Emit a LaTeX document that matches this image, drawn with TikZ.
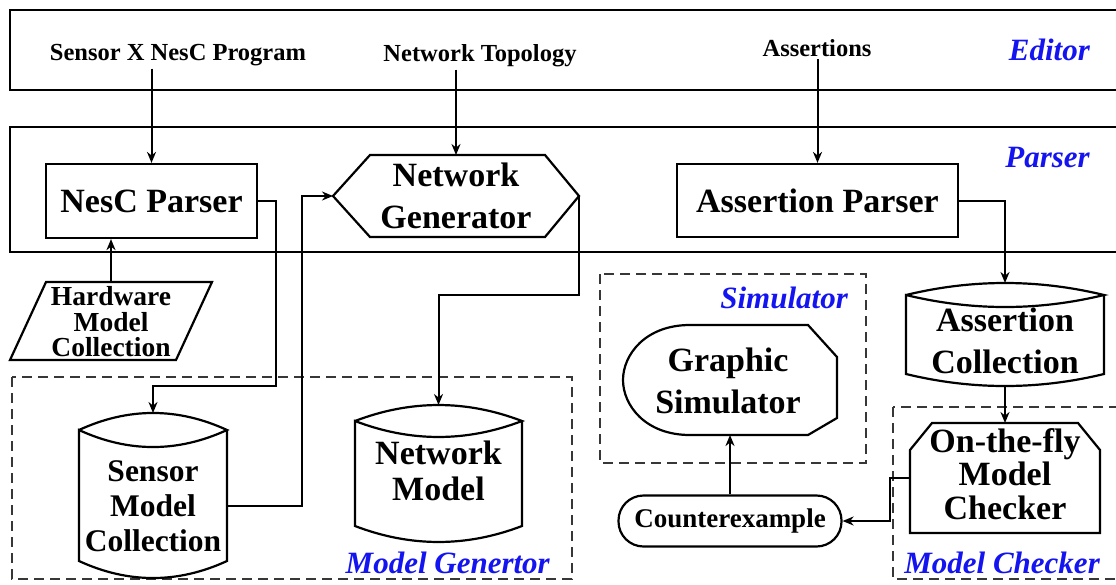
\documentclass[tikz,border=0pt]{standalone}
\usepackage{fontspec}
\setmainfont{Liberation Serif}
\usetikzlibrary{arrows.meta}
\definecolor{lblue}{RGB}{20,20,240}
\definecolor{dgray}{RGB}{55,55,55}
\tikzset{
  arr/.style={line width=2pt, -{Stealth[length=11pt,width=9pt,inset=3.5pt]}},
  shp/.style={line width=2.2pt, line join=miter},
  grp/.style={line width=1.6pt},
  dgrp/.style={line width=2pt, dgray, dash pattern=on 10pt off 6pt},
  big/.style={font=\fontsize{34}{42}\selectfont\bfseries, align=center, inner sep=0pt},
  hole/.style={inner sep=0pt, outer sep=0pt},
  small/.style={font=\fontsize{24.5}{28}\selectfont\bfseries, inner sep=3pt},
  blab/.style={font=\fontsize{31}{34}\selectfont\bfseries\itshape, text=lblue, inner sep=0pt, anchor=base east},
}
\begin{document}
\begin{tikzpicture}[x=1pt,y=-1pt]
\useasboundingbox (0,0) rectangle (1116,584);
\clip (0,0) rectangle (1116,584);

% group frames
\draw[grp] (10,10) rectangle (1130,90);
\draw[grp] (10,127) rectangle (1130,252);
\draw[dgrp] (12,377) rectangle (572,579);
\draw[dgrp] (600,274) rectangle (866,463);
\draw[dgrp] (893,407) rectangle (1130,579);

% group labels
\node[blab] (leditor) at (1090,60) {Editor};
\node[blab] (lparser) at (1090,167) {Parser};
\node[blab] (lsim) at (848,308) {Simulator};
\node[blab] (lmg) at (550,573) {Model Genertor};
\node[blab] (lmc) at (1100,573) {Model Checker};

% editor inputs
\node[small, anchor=base] (sxp) at (178,60) {Sensor X NesC Program};
\node[small, anchor=base] (ntop) at (480,61) {Network Topology};
\node[small, anchor=base] (asrt) at (817,56) {Assertions};

% parser stage
\node[big, draw, shp, minimum width=211, minimum height=74] (nesc) at (151.5,201) {NesC Parser};
\node[big, draw, shp, minimum width=281, minimum height=73] (apar) at (817.5,200.5) {Assertion Parser};

\node[hole, minimum width=246, minimum height=82] (gen) at (456,196) {};
\draw[shp] (gen.west) -- (370,155) -- (545,155) -- (gen.east) -- (545,237) -- (370,237) -- cycle;
\node[big] (gentxt) at (456,196) {Network\\Generator};

% hardware collection
\node[hole, minimum width=166, minimum height=78] (hw) at (111,321) {};
\draw[shp] (10,360) -- (46,282) -- (212,282) -- (176,360) -- cycle;
\node[font=\fontsize{27.5}{25.5}\selectfont\bfseries, align=center, inner sep=0pt] (hwtxt) at (111,322) {Hardware\\Model\\Collection};

% sensor model collection
\node[hole, minimum width=148, minimum height=165] (sensor) at (153,495.5) {};
\draw[shp] (79,430) .. controls (128.3,407.3) and (177.7,407.3) .. (227,430)
  .. controls (177.7,452.7) and (128.3,452.7) .. (79,430) -- (79,561)
  .. controls (128.3,583.7) and (177.7,583.7) .. (227,561) -- (227,430);
\node[font=\fontsize{31.5}{35}\selectfont\bfseries, align=center, inner sep=0pt] (sensortxt) at (153,506) {Sensor\\Model\\Collection};

% network model
\node[hole, minimum width=167, minimum height=137] (nmod) at (438.5,473.5) {};
\draw[shp] (355,421) .. controls (410.7,399.7) and (466.3,399.7) .. (522,421)
  .. controls (466.3,442.3) and (410.7,442.3) .. (355,421) -- (355,526)
  .. controls (410.7,547.3) and (466.3,547.3) .. (522,526) -- (522,421);
\node[big, font=\fontsize{34}{36}\selectfont\bfseries] (nmodtxt) at (438.5,471) {Network\\Model};

% assertion collection
\node[hole, minimum width=197, minimum height=103] (acoll) at (1005,334.5) {};
\draw[shp] (906,295) .. controls (972,279) and (1038,279) .. (1104,295)
  .. controls (1038,311) and (972,311) .. (906,295) -- (906,374)
  .. controls (972,390) and (1038,390) .. (1104,374) -- (1104,295);
\node[big] (acolltxt) at (1005,341) {Assertion\\Collection};

% graphic simulator
\node[hole, minimum width=214, minimum height=110] (gsim) at (730,380) {};
\draw[shp] (690,325) -- (808,325) -- (837,357) -- (837,418) -- (808,435) -- (690,435) .. controls (645,435) and (623,405) .. (623,380) .. controls (623,355) and (645,325) .. (690,325) -- cycle;
\node[big] (gsimtxt) at (728,381) {Graphic\\Simulator};

% counterexample
\node[draw, shp, rounded corners=25pt, minimum width=223, minimum height=51, inner sep=0pt, font=\fontsize{27}{30}\selectfont\bfseries] (cex) at (730,521) {Counterexample};

% on-the-fly model checker
\node[hole, minimum width=190, minimum height=110] (otf) at (1005,478) {};
\draw[shp] (910,450) -- (932,423) -- (1078,423) -- (1100,450) -- (1100,533) -- (910,533) -- cycle;
\node[big, font=\fontsize{34}{33.5}\selectfont\bfseries] (otftxt) at (1005,474) {On-the-fly\\Model\\Checker};

% connectors
\draw[arr] (nesc.north |- sxp.south) -- (nesc.north);
\draw[arr] (gen.north |- ntop.south) -- (gen.north);
\draw[arr] (apar.north |- asrt.south) -- (apar.north);
\draw[arr] (hw.north) -- (hw.north |- nesc.south);
\draw[arr] (nesc.east) -- ++(18,0) -- ++(0,185) -| (sensor.north);
\draw[arr] ([yshift=-10pt]sensor.east) -- ++(75,0) |- (gen.west);
\draw[arr] (gen.east) -- ++(0,99) -| (nmod.north);
\draw[arr] (apar.east) -| (acoll.north);
\draw[arr] (acoll.south) -- (otf.north);
\draw[arr] (otf.west) -- ++(-20,0) |- (cex.east);
\draw[arr] (cex.north) -- (cex.north |- gsim.south);
\end{tikzpicture}
\end{document}
